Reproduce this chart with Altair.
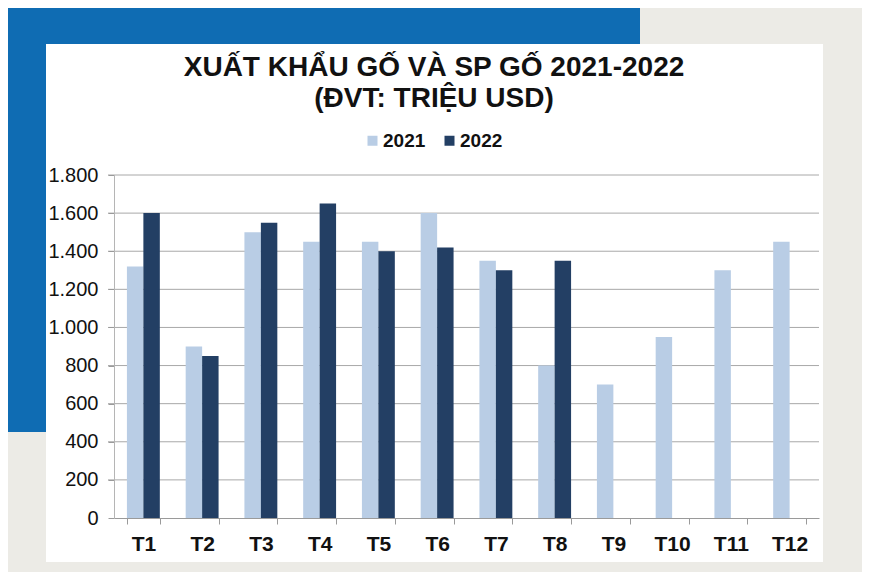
import altair as alt
import pandas as pd

# ---- data ----
months = ["T1", "T2", "T3", "T4", "T5", "T6", "T7", "T8", "T9", "T10", "T11", "T12"]
years = ["2021", "2022"]
values_2021 = [1320, 900, 1500, 1450, 1450, 1600, 1350, 800, 700, 950, 1300, 1450]
values_2022 = [1600, 850, 1550, 1650, 1400, 1420, 1300, 1350, None, None, None, None]
y_ticks = [0, 200, 400, 600, 800, 1000, 1200, 1400, 1600, 1800]

title_line1 = "XUẤT KHẨU GỐ VÀ SP GỐ 2021-2022"
title_line2 = "(ĐVT: TRIỆU USD)"

colors = ["#b9cde5", "#233f64"]

rows = []
for m, a, b in zip(months, values_2021, values_2022):
    rows.append({"month": m, "year": "2021", "value": a})
    if b is not None:
        rows.append({"month": m, "year": "2022", "value": b})
df = pd.DataFrame(rows)

W, H = 705, 343
FONT = "Liberation Sans"

one = pd.DataFrame({"k": [0]})
yscale = alt.Scale(domain=[0, 1800], nice=False)
yaxis = alt.Axis(values=y_ticks, labelFont=FONT, labelFontSize=20,
                 labelColor="#111111", labelPadding=10, tickSize=6,
                 tickColor="#9a9a9a", domainColor="#b5b5b5",
                 grid=False, zindex=1, title=None,
                 labelExpr="replace(format(datum.value, ','), ',', '.')")

# decorative background (page-like) pieces
bg = alt.Chart(one).mark_rect(color="#ecebe6").encode(
    x=alt.value(-106), x2=alt.value(748), y=alt.value(-167), y2=alt.value(397))
blue = alt.Chart(one).mark_rect(color="#0f6cb3").encode(
    x=alt.value(-106), x2=alt.value(526), y=alt.value(-167), y2=alt.value(257))
white = alt.Chart(one).mark_rect(color="#ffffff").encode(
    x=alt.value(-68), x2=alt.value(709), y=alt.value(-131), y2=alt.value(387))

t1 = alt.Chart(pd.DataFrame({"t": [title_line1]})).mark_text(
    font=FONT, fontSize=28, fontWeight="bold", color="#111111",
    align="center", baseline="alphabetic").encode(
    x=alt.value(320), y=alt.value(-99), text="t:N")
t2 = alt.Chart(pd.DataFrame({"t": [title_line2]})).mark_text(
    font=FONT, fontSize=28, fontWeight="bold", color="#111111",
    align="center", baseline="alphabetic").encode(
    x=alt.value(320), y=alt.value(-68), text="t:N")

grid = alt.Chart(pd.DataFrame({"v": y_ticks[1:]})).mark_rule(
    color="#a8a8a8", strokeWidth=1).encode(
    y=alt.Y("v:Q", scale=yscale, axis=yaxis, title=None),
    x=alt.value(-6), x2=alt.value(W))

bars = alt.Chart(df).mark_bar().encode(
    x=alt.X("month:N", sort=months, title=None,
            scale=alt.Scale(paddingInner=0.44, paddingOuter=0.22),
            axis=alt.Axis(labelAngle=0, labelFont=FONT, labelFontSize=21,
                          labelFontWeight="bold", labelColor="#111111",
                          labelPadding=9, tickSize=6, tickBand="extent",
                          tickColor="#9a9a9a", domainColor="#9a9a9a",
                          grid=False, zindex=1)),
    xOffset=alt.XOffset("year:N", sort=years),
    y=alt.Y("value:Q", title=None, scale=yscale, axis=yaxis),
    color=alt.Color("year:N", sort=years,
                    scale=alt.Scale(domain=years, range=colors),
                    legend=alt.Legend(title=None, orient="none", legendX=249,
                                      legendY=-44, direction="horizontal",
                                      symbolType="square", symbolSize=100,
                                      symbolStrokeWidth=0, symbolOpacity=1,
                                      labelFont=FONT, labelFontSize=19,
                                      labelFontWeight="bold",
                                      labelColor="#111111", labelOffset=1,
                                      columnPadding=14)),
)

chart = alt.layer(bg, blue, white, t1, t2, grid, bars).properties(
    width=W, height=H, padding=0
).configure_view(strokeWidth=0).configure(background="#ecebe6")

chart.save("out.html", embed_options={"renderer": "svg", "actions": False})
